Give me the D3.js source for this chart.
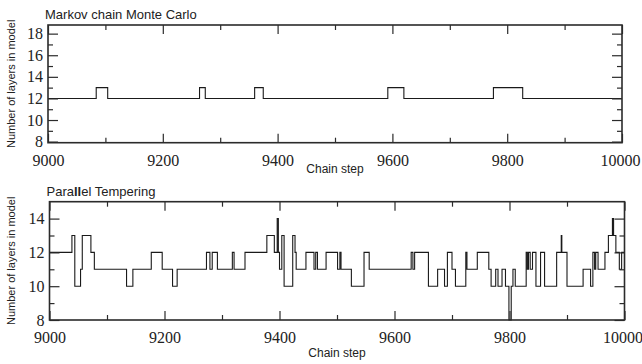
<!DOCTYPE html>
<html>
<head>
<meta charset="utf-8">
<script src="https://cdn.jsdelivr.net/npm/d3@7"></script>
<style>
  body { margin: 0; background: #fff; }
  svg { display: block; }
  .num text { font-family: "Liberation Serif", "DejaVu Serif", "Times New Roman", serif; font-size: 16px; }
</style>
</head>
<body>
<div id="chart"></div>
<script>
const width = 642;
const height = 364;

// Markov chain Monte Carlo: steps where the layer count changes, and the new count
const mcmcSteps  = [9000, 9084, 9104, 9264, 9274, 9360, 9375, 9592, 9620, 9776, 9827, 10000];
const mcmcLayers = [12, 13, 12, 13, 12, 13, 12, 13, 12, 13, 12, 12];

// Parallel tempering: same layout
const ptSteps = [
  9000, 9039, 9044, 9054, 9057, 9072, 9078, 9134, 9145, 9177,
  9196, 9214, 9222, 9273, 9279, 9283, 9292, 9318, 9321, 9340,
  9378, 9391, 9396, 9398, 9400, 9404, 9408, 9423, 9427, 9429,
  9446, 9460, 9463, 9466, 9481, 9501, 9505, 9507, 9525, 9547,
  9556, 9629, 9632, 9635, 9659, 9675, 9687, 9692, 9700, 9706,
  9724, 9726, 9744, 9764, 9768, 9776, 9780, 9787, 9793, 9799,
  9803, 9806, 9810, 9829, 9831, 9833, 9836, 9840, 9846, 9854,
  9861, 9882, 9890, 9891, 9900, 9928, 9941, 9945, 9948, 9950,
  9954, 9966, 9972, 9979, 9981, 9985, 9991, 9995, 10000
];
const ptLayers = [
  12, 13, 10, 11, 13, 12, 11, 10, 11, 12,
  11, 10, 11, 12, 11, 12, 11, 12, 11, 12,
  13, 12, 14, 12, 11, 13, 10, 13, 12, 11,
  12, 11, 12, 11, 12, 11, 12, 11, 10, 12,
  11, 12, 11, 12, 10, 11, 10, 12, 11, 10,
  12, 11, 12, 11, 10, 11, 10, 11, 10, 8,
  10, 11, 10, 12, 11, 12, 11, 12, 10, 12,
  10, 12, 13, 12, 10, 11, 10, 12, 11, 12,
  11, 12, 13, 14, 13, 12, 11, 12, 12
];

const xMajor = [9000, 9200, 9400, 9600, 9800, 10000];
const xMinor = [9100, 9300, 9500, 9700, 9900];

const panels = [
  {title: 'Markov chain Monte Carlo', steps: mcmcSteps, layers: mcmcLayers,
   left: 48, right: 622, top: 25, bottom: 142.7, yDomain: [7.9, 18.8],
   yMajor: [8, 10, 12, 14, 16, 18], yMinor: [9, 11, 13, 15, 17], xTitleGap: 30},
  {title: 'Parallel Tempering', steps: ptSteps, layers: ptLayers,
   left: 49.5, right: 624.5, top: 201.7, bottom: 320, yDomain: [8, 15],
   yMajor: [8, 10, 12, 14], yMinor: [9, 11, 13], xTitleGap: 37}
];

const svg = d3.select('#chart').append('svg')
  .attr('width', width)
  .attr('height', height);

const ink = '#2b2b2b';
const sans = 'Liberation Sans, Arial, sans-serif';

panels.forEach((p, i) => {
  const x = d3.scaleLinear().domain([9000, 10000]).range([p.left, p.right]);
  const y = d3.scaleLinear().domain(p.yDomain).range([p.bottom, p.top]);
  const g = svg.append('g');

  // title
  const t = g.append('text')
    .attr('x', p.left - 3)
    .attr('y', p.top - 6)
    .attr('font-family', sans)
    .attr('font-size', 13)
    .attr('fill', '#222');
  if (i === 1) {
    t.append('tspan').text('Para');
    t.append('tspan').attr('font-weight', 'bold').text('ll');
    t.append('tspan').text('el Tempering');
  } else {
    t.text(p.title);
  }

  // data line
  const pts = p.steps.map((s, k) => [s, p.layers[k]]);
  g.append('path')
    .datum(pts)
    .attr('fill', 'none')
    .attr('stroke', '#1a1a1a')
    .attr('stroke-width', 1.1)
    .attr('d', d3.line().x(d => x(d[0])).y(d => y(d[1])).curve(d3.curveStepAfter));

  // inward ticks on all four sides
  const bottomAx = d3.axisBottom(x).tickValues(xMajor).tickSize(-9).tickPadding(12).tickFormat(d3.format('d'));
  const topAx = d3.axisTop(x).tickValues(xMajor).tickSize(-9).tickFormat('');
  const bottomMinor = d3.axisBottom(x).tickValues(xMinor).tickSize(-5).tickFormat('');
  const topMinor = d3.axisTop(x).tickValues(xMinor).tickSize(-5).tickFormat('');
  const leftAx = d3.axisLeft(y).tickValues(p.yMajor).tickSize(-10).tickPadding(5).tickFormat(d3.format('d'));
  const rightAx = d3.axisRight(y).tickValues(p.yMajor).tickSize(-10).tickFormat('');
  const leftMinor = d3.axisLeft(y).tickValues(p.yMinor).tickSize(-5).tickFormat('');
  const rightMinor = d3.axisRight(y).tickValues(p.yMinor).tickSize(-5).tickFormat('');

  const addAxis = (ax, tr) => g.append('g')
    .attr('class', 'num')
    .attr('transform', tr)
    .call(ax)
    .call(a => a.select('.domain').remove())
    .call(a => a.selectAll('line').attr('stroke', ink).attr('stroke-width', 1.2))
    .call(a => a.selectAll('text').attr('fill', '#222'));

  addAxis(bottomAx, `translate(0,${p.bottom})`)
    .selectAll('text').attr('dx', d => d === 10000 ? -2 : 0);
  addAxis(bottomMinor, `translate(0,${p.bottom})`);
  addAxis(topAx, `translate(0,${p.top})`);
  addAxis(topMinor, `translate(0,${p.top})`);
  addAxis(leftAx, `translate(${p.left},0)`);
  addAxis(leftMinor, `translate(${p.left},0)`);
  addAxis(rightAx, `translate(${p.right},0)`);
  addAxis(rightMinor, `translate(${p.right},0)`);

  // frame
  g.append('rect')
    .attr('x', p.left).attr('y', p.top)
    .attr('width', p.right - p.left).attr('height', p.bottom - p.top)
    .attr('fill', 'none')
    .attr('stroke', ink)
    .attr('stroke-width', 1.6);

  // axis titles
  g.append('text')
    .attr('x', (p.left + p.right) / 2)
    .attr('y', p.bottom + p.xTitleGap)
    .attr('text-anchor', 'middle')
    .attr('font-family', sans)
    .attr('font-size', 12)
    .attr('fill', '#222')
    .text('Chain step');

  g.append('text')
    .attr('transform', `translate(15,${(p.top + p.bottom) / 2}) rotate(-90)`)
    .attr('text-anchor', 'middle')
    .attr('font-family', sans)
    .attr('font-size', 11)
    .attr('fill', '#222')
    .text('Number of layers in model');
});
</script>
</body>
</html>
